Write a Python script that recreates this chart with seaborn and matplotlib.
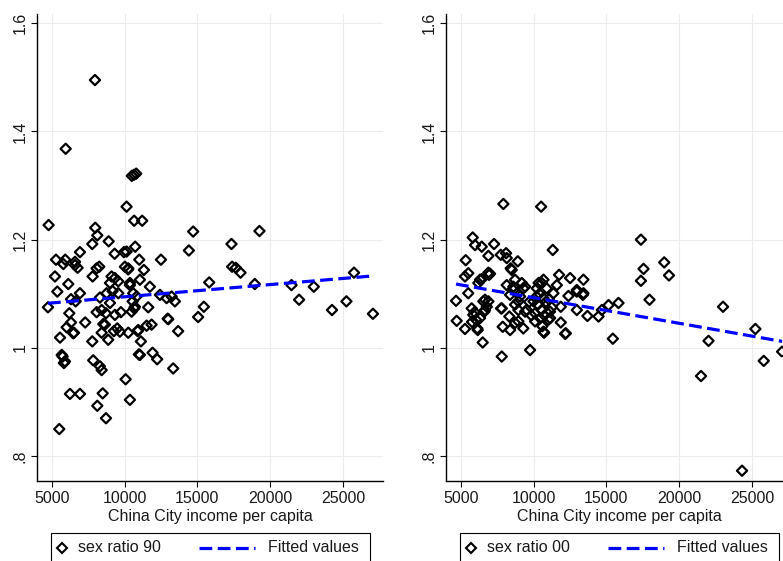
import numpy as np
import pandas as pd
import seaborn as sns
import matplotlib.pyplot as plt
from matplotlib.lines import Line2D
from matplotlib.text import Text
from matplotlib.offsetbox import DrawingArea, AnchoredOffsetbox

# sex ratio 1990 vs city income per capita
income_90 = [7970, 5960, 10500, 10650, 10800, 10140, 10660, 11210, 4790, 7990,
             8130, 14710, 19260, 7785, 8910, 9960, 9320, 6940, 10730, 11010,
             12500, 14415, 17340, 17385, 17640, 17960, 25750, 5295, 5930, 5800,
             6600, 6780, 6600, 8265, 8085, 10025, 10250, 11330, 5225, 5385,
             6140, 4745, 6325, 6645, 6940, 6210, 6325, 6030, 6530, 7300,
             5570, 5750, 5910, 7785, 7850, 8310, 8430, 6255, 6940, 8500,
             8130, 8725, 5520, 10075, 10370, 13340, 11055, 11925, 12240, 11125,
             10255, 10900, 8880, 8430, 9270, 9500, 8655, 8085, 8725, 9340,
             9750, 9000, 8310, 8770, 9180, 9000, 9340, 9570, 7810, 9570,
             10370, 10595, 10830, 10555, 10485, 10665, 11055, 11740, 11625, 11515,
             11855, 12430, 13000, 13230, 13455, 13680, 15050, 15445, 15810, 18940,
             21460, 21980, 22990, 24240, 25230, 27050, 9110, 8540, 9680, 8430,
             5690, 5840, 12885, 12960, 10940, 10985, 10255, 10370, 10140, 6480,
             10710]
ratio_90 = [1.495, 1.368, 1.318, 1.320, 1.322, 1.261, 1.235, 1.235, 1.227, 1.222,
            1.208, 1.215, 1.216, 1.192, 1.197, 1.177, 1.174, 1.177, 1.187, 1.163,
            1.163, 1.180, 1.192, 1.150, 1.148, 1.139, 1.139, 1.163, 1.163, 1.155,
            1.153, 1.148, 1.159, 1.150, 1.147, 1.150, 1.145, 1.144, 1.132, 1.104,
            1.118, 1.075, 1.090, 1.086, 1.101, 1.064, 1.047, 1.038, 1.028, 1.047,
            1.019, 0.984, 0.975, 1.012, 0.977, 0.966, 0.959, 0.915, 0.915, 0.916,
            0.893, 0.870, 0.850, 0.942, 0.904, 0.962, 0.987, 0.991, 0.979, 1.012,
            1.028, 1.031, 1.015, 1.028, 1.031, 1.036, 1.043, 1.066, 1.064, 1.061,
            1.066, 1.083, 1.093, 1.101, 1.105, 1.120, 1.129, 1.123, 1.132, 1.101,
            1.116, 1.101, 1.095, 1.086, 1.067, 1.073, 1.126, 1.113, 1.075, 1.041,
            1.043, 1.098, 1.053, 1.095, 1.086, 1.031, 1.057, 1.076, 1.121, 1.118,
            1.116, 1.089, 1.113, 1.070, 1.086, 1.063, 1.132, 1.044, 1.030, 1.070,
            0.987, 0.972, 1.092, 1.054, 1.033, 0.988, 1.147, 1.120, 1.178, 1.027,
            1.076]
fit_income_90 = [4745, 27050]
fit_90 = [1.0825, 1.133]

# sex ratio 2000 vs city income per capita
income_00 = [7930, 10520, 17370, 5825, 5985, 6445, 7290, 6900, 5345, 7750,
             8115, 8160, 8920, 8435, 11320, 17550, 18970, 19295, 5295, 5520,
             6945, 11755, 12510, 13425, 10680, 4680, 4725, 5295, 5520, 6510,
             6140, 6325, 5865, 5755, 6325, 7015, 6555, 6900, 6670, 7820,
             7820, 7885, 8160, 8390, 8615, 8505, 8340, 8730, 8390, 8960,
             8960, 9300, 9190, 9300, 9760, 8730, 9420, 10000, 10105, 10225,
             10565, 10680, 10105, 10450, 10680, 11020, 11135, 11365, 11600, 11870,
             11870, 12215, 12395, 12970, 12970, 13425, 13700, 14460, 14690, 15145,
             15830, 15445, 17370, 17960, 23005, 22010, 21495, 24310, 25225, 25800,
             27060, 6900, 6445, 6210, 6170, 5950, 6050, 5780, 6670, 6790,
             6620, 7770, 8960, 9075, 8730, 8615, 9420, 9535, 12970, 13385,
             11135, 10725, 12170, 10300, 10400, 10550, 10750, 10850, 10900, 11050,
             10200, 10600, 9850, 9700, 11250, 10350]
ratio_00 = [1.266, 1.261, 1.200, 1.204, 1.190, 1.187, 1.192, 1.170, 1.162, 1.172,
            1.175, 1.166, 1.160, 1.147, 1.181, 1.146, 1.158, 1.134, 1.132, 1.138,
            1.135, 1.135, 1.129, 1.126, 1.126, 1.087, 1.050, 1.035, 1.101, 1.010,
            1.036, 1.055, 1.061, 1.073, 1.126, 1.137, 1.086, 1.086, 1.070, 0.984,
            1.073, 1.039, 1.116, 1.098, 1.113, 1.144, 1.058, 1.046, 1.033, 1.070,
            1.086, 1.036, 1.120, 1.110, 0.996, 1.126, 1.067, 1.086, 1.064, 1.110,
            1.120, 1.092, 1.049, 1.055, 1.030, 1.052, 1.067, 1.101, 1.116, 1.076,
            1.047, 1.027, 1.096, 1.104, 1.070, 1.101, 1.059, 1.058, 1.070, 1.079,
            1.083, 1.017, 1.124, 1.089, 1.076, 1.013, 0.948, 0.773, 1.035, 0.976,
            0.993, 1.139, 1.127, 1.120, 1.033, 1.066, 1.052, 1.048, 1.089, 1.076,
            1.067, 1.073, 1.049, 1.095, 1.080, 1.107, 1.113, 1.070, 1.107, 1.098,
            1.055, 1.028, 1.026, 1.080, 1.100, 1.070, 1.060, 1.085, 1.110, 1.090,
            1.095, 1.040, 1.060, 1.085, 1.075, 1.120]
fit_income_00 = [4680, 27060]
fit_00 = [1.118, 1.012]

x_ticks = [5000, 10000, 15000, 20000, 25000]
y_ticks = [0.8, 1.0, 1.2, 1.4, 1.6]
y_labels = ['.8', '1', '1.2', '1.4', '1.6']

sns.set_theme(style='white')
plt.rcParams['font.family'] = ['Liberation Sans', 'DejaVu Sans']

FS = 11.5
TXT = '#1a1a1a'
W, H = 783, 561

fig = plt.figure(figsize=(W / 100, H / 100), dpi=100)
ax1 = fig.add_axes([37 / W, 80 / H, 346 / W, 467.5 / H])
ax2 = fig.add_axes([446 / W, 80 / H, 346 / W, 467.5 / H])


def panel(ax, x, y, fx, fy):
    df = pd.DataFrame({'income': x, 'ratio': y})
    sns.scatterplot(data=df, x='income', y='ratio', ax=ax, marker='D', s=27,
                    color='black', linewidth=1.6, zorder=3)
    ax.collections[-1].set_facecolor('none')
    ax.collections[-1].set_edgecolor('black')
    sns.lineplot(x=fx, y=fy, ax=ax, color='#0000ff', linewidth=2.3, zorder=4)
    ax.lines[-1].set_dashes((4, 1.7))

    ax.set_xlim(3992, 27740)
    ax.set_ylim(0.754, 1.618)
    ax.set_xticks(x_ticks)
    ax.set_yticks(y_ticks)
    ax.set_yticklabels(y_labels, rotation=90, va='center')
    ax.grid(True, color='#ececec', linewidth=0.8, zorder=0)
    ax.set_axisbelow(True)
    for side in ['top', 'right']:
        ax.spines[side].set_visible(False)
    for side in ['left', 'bottom']:
        ax.spines[side].set_color('black')
        ax.spines[side].set_linewidth(1.0)
    ax.tick_params(axis='both', direction='out', length=4, width=0.8,
                   color='black', labelsize=FS, labelcolor=TXT, pad=3,
                   left=True, bottom=True)
    ax.set_xlabel('China City income per capita', fontsize=FS, color=TXT, labelpad=2)
    ax.set_ylabel('')


def key_box(left_px, label):
    p = 0.72  # px -> pt
    h = 36 * p
    mid = h - 15 * p
    da = DrawingArea(319 * p, h)
    da.add_artist(Line2D([11 * p], [mid], marker='D', ms=5.2, mfc='none',
                         mec='black', mew=1.5, ls='none'))
    da.add_artist(Text(27 * p, mid, label, va='center', ha='left',
                       fontsize=FS, color=TXT))
    da.add_artist(Line2D([148 * p, 204 * p], [mid, mid], color='#0000ff',
                         lw=2.3, dashes=(4, 1.7)))
    da.add_artist(Text(217 * p, mid, 'Fitted values', va='center', ha='left',
                       fontsize=FS, color=TXT))
    ab = AnchoredOffsetbox(loc='upper left', child=da, pad=0, borderpad=0,
                           frameon=True, bbox_to_anchor=(left_px / W, 1 - 533 / H),
                           bbox_transform=fig.transFigure)
    ab.patch.set_boxstyle('square', pad=0)
    ab.patch.set_edgecolor('black')
    ab.patch.set_linewidth(0.8)
    fig.add_artist(ab)


panel(ax1, income_90, ratio_90, fit_income_90, fit_90)
panel(ax2, income_00, ratio_00, fit_income_00, fit_00)
key_box(51, 'sex ratio 90')
key_box(460, 'sex ratio 00')

fig.savefig('out.png', dpi=100)
